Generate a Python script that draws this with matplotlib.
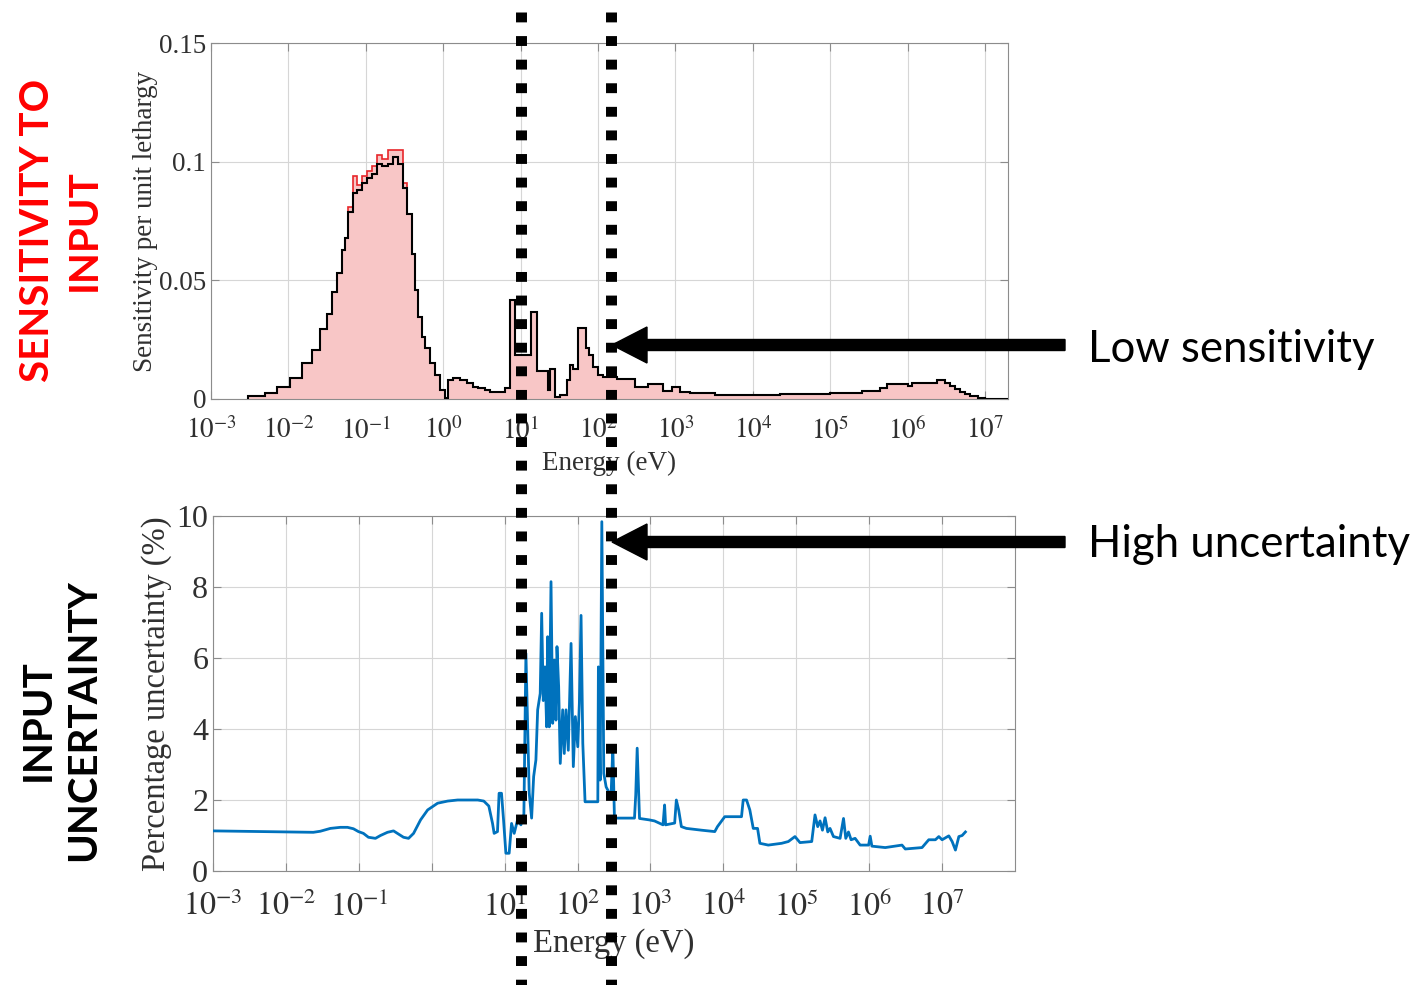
import matplotlib
matplotlib.use("Agg")
import matplotlib.pyplot as plt
import numpy as np
from matplotlib.patches import FancyArrow
from matplotlib.lines import Line2D

plt.rcParams['font.family'] = 'Liberation Serif'
plt.rcParams['mathtext.fontset'] = 'stix'

# sensitivity per unit lethargy, group edges given as log10(E / eV)
sens_edges_exp = [-2.52, -2.30, -2.15, -1.98, -1.83, -1.70, -1.59, -1.505, -1.44, -1.376,
                  -1.31, -1.27, -1.226, -1.16, -1.118, -1.053, -0.988, -0.924, -0.859, -0.795,
                  -0.709, -0.645, -0.58, -0.515, -0.472, -0.407, -0.364, -0.322, -0.278, -0.235,
                  -0.171, -0.106, -0.041, 0.023, 0.066, 0.13, 0.217, 0.307, 0.385, 0.45,
                  0.54, 0.605, 0.80, 0.863, 0.928, 1.134, 1.212, 1.354, 1.38, 1.444,
                  1.509, 1.60, 1.638, 1.677, 1.742, 1.845, 1.884, 1.935, 2.0, 2.065,
                  2.245, 2.478, 2.646, 2.84, 2.956, 3.059, 3.189, 3.512, 4.351, 4.997,
                  5.411, 5.643, 5.734, 6.005, 6.057, 6.38, 6.483, 6.548, 6.612, 6.677,
                  6.742, 6.806, 6.91, 7.0, 7.297]
sens_black = [0.0013, 0.0025, 0.005, 0.009, 0.015, 0.0206, 0.0295, 0.036, 0.045, 0.053,
              0.0627, 0.068, 0.079, 0.087, 0.088, 0.091, 0.093, 0.095, 0.099, 0.098,
              0.099, 0.102, 0.099, 0.089, 0.078, 0.061, 0.046, 0.0345, 0.026, 0.0215,
              0.015, 0.010, 0.004, 0.0004, 0.008, 0.009, 0.008, 0.0067, 0.005, 0.0046,
              0.0038, 0.003, 0.0046, 0.0417, 0.0185, 0.0366, 0.012, 0.004, 0.0125, 0.0008,
              0.0017, 0.008, 0.0143, 0.0125, 0.030, 0.0215, 0.0185, 0.0135, 0.010, 0.0093,
              0.0084, 0.005, 0.0063, 0.0034, 0.005, 0.003, 0.0025, 0.0017, 0.002, 0.0025,
              0.0034, 0.0046, 0.0063, 0.0055, 0.0067, 0.008, 0.0067, 0.0055, 0.0042, 0.003,
              0.0021, 0.0013, 0.0006, 0.0002]
# second library only differs visibly around the thermal peak
sens_red = list(sens_black)
sens_red[12:24] = [0.081, 0.094, 0.090, 0.094, 0.096, 0.098, 0.103, 0.101, 0.105, 0.105, 0.105, 0.091]

# percentage uncertainty curve
unc_exp = [-3.0, -1.624, -1.528, -1.390, -1.253, -1.156, -1.074, -1.005, -0.937, -0.868,
           -0.772, -0.703, -0.607, -0.524, -0.455, -0.387, -0.318, -0.249, -0.153, -0.056,
           0.081, 0.219, 0.356, 0.631, 0.714, 0.783, 0.834, 0.856, 0.902, 0.924,
           0.957, 0.985, 1.017, 1.062, 1.095, 1.131, 1.177, 1.223, 1.264, 1.292,
           1.315, 1.337, 1.370, 1.398, 1.429, 1.453, 1.488, 1.508, 1.530, 1.553,
           1.576, 1.590, 1.612, 1.636, 1.659, 1.681, 1.704, 1.718, 1.741, 1.763,
           1.796, 1.818, 1.842, 1.873, 1.911, 1.942, 1.970, 2.003, 2.025, 2.048,
           2.072, 2.103, 2.278, 2.286, 2.310, 2.333, 2.360, 2.392, 2.437, 2.461,
           2.484, 2.506, 2.781, 2.798, 2.818, 2.850, 2.983, 3.056, 3.172, 3.194,
           3.208, 3.332, 3.355, 3.387, 3.424, 3.493, 3.699, 3.882, 3.919, 4.019,
           4.249, 4.272, 4.318, 4.363, 4.410, 4.469, 4.501, 4.616, 4.799, 4.891,
           4.982, 5.051, 5.212, 5.257, 5.294, 5.326, 5.359, 5.395, 5.432, 5.463,
           5.510, 5.601, 5.648, 5.679, 5.716, 5.752, 5.807, 5.876, 5.992, 6.014,
           6.037, 6.220, 6.450, 6.495, 6.725, 6.817, 6.908, 6.955, 7.000, 7.092,
           7.138, 7.183, 7.230, 7.275, 7.320]
unc_pct = [1.13, 1.09, 1.12, 1.20, 1.23, 1.23, 1.19, 1.11, 1.06, 0.95,
           0.92, 1.00, 1.09, 1.13, 1.04, 0.95, 0.92, 1.06, 1.44, 1.72,
           1.91, 1.97, 2.00, 2.00, 1.97, 1.83, 1.34, 1.06, 1.11, 2.19,
           2.19, 1.44, 0.50, 0.50, 1.34, 1.06, 1.44, 1.30, 1.60, 6.13,
           4.06, 2.20, 1.49, 2.66, 3.13, 4.54, 5.00, 7.26, 4.80, 5.75,
           4.06, 6.60, 4.06, 8.15, 4.16, 5.94, 4.25, 6.32, 5.19, 3.03,
           4.54, 3.31, 4.54, 3.40, 6.41, 2.94, 4.35, 3.50, 4.72, 7.20,
           3.60, 1.95, 1.95, 5.75, 2.56, 9.84, 2.75, 2.37, 2.19, 2.20,
           3.50, 1.49, 1.49, 2.14, 3.46, 1.48, 1.44, 1.41, 1.30, 1.86,
           1.30, 1.35, 2.00, 1.72, 1.25, 1.20, 1.15, 1.11, 1.25, 1.53,
           1.53, 2.00, 2.00, 1.72, 1.20, 1.20, 0.78, 0.73, 0.78, 0.83,
           0.97, 0.80, 0.83, 1.58, 1.25, 1.41, 1.15, 1.50, 1.10, 1.20,
           0.97, 0.92, 1.48, 0.92, 1.10, 0.88, 0.92, 0.73, 0.73, 0.98,
           0.70, 0.66, 0.73, 0.62, 0.66, 0.88, 0.88, 0.97, 0.88, 0.99,
           0.83, 0.59, 0.97, 1.00, 1.10]

decades = list(range(-3, 8))
top_yticks = [0, 0.05, 0.1, 0.15]
top_ylabels = ['0', '0.05', '0.1', '0.15']
bot_yticks = [0, 2, 4, 6, 8, 10]


def matlab_style(ax, fs, xpad):
    ax.set_xscale('log')
    ax.grid(True, which='major', color='#d6d6d6', lw=0.8)
    ax.grid(True, which='minor', axis='x', color='#bdbdbd', lw=0.7, ls=':')
    ax.tick_params(which='both', direction='in', top=True, right=True,
                   colors='#8c8c8c', labelcolor='#303030', labelsize=fs)
    ax.tick_params(axis='x', which='major', pad=xpad)
    ax.tick_params(which='major', length=6)
    ax.tick_params(which='minor', length=3)
    for s in ax.spines.values():
        s.set_color('#8c8c8c')
    ax.set_axisbelow(True)


fig = plt.figure(figsize=(14.25, 9.85), dpi=100)

# top: sensitivity profile
ax1 = fig.add_axes([211/1425, 1-399/985, 797/1425, 356/985])
edges = 10.0 ** np.array(sens_edges_exp)
ax1.stairs(sens_red, edges, fill=True, color='#f8c6c6', zorder=2)
ax1.stairs(sens_red, edges, color='#e8262a', lw=1.2, zorder=3)
ax1.stairs(sens_black, edges, color='black', lw=1.5, zorder=4)
matlab_style(ax1, 19.5, 13)
ax1.set_xlim(1e-3, 10 ** 7.297)
ax1.set_ylim(0, 0.15)
ax1.set_xticks([10.0 ** d for d in decades])
ax1.set_xticklabels(['$10^{%d}$' % d for d in decades])
ax1.set_yticks(top_yticks)
ax1.set_yticklabels(top_ylabels)
ax1.set_xlabel('Energy (eV)', fontsize=19.5, color='#303030')
ax1.xaxis.set_label_coords(0.5, -0.145)
ax1.set_ylabel('Sensitivity per unit lethargy', fontsize=19.5, color='#303030')
ax1.yaxis.set_label_coords(-0.066, 0.5)

# bottom: percentage uncertainty
ax2 = fig.add_axes([213/1425, 1-871/985, 802/1425, 355/985])
ax2.plot(10.0 ** np.array(unc_exp), unc_pct, color='#0072bd', lw=2, zorder=3)
matlab_style(ax2, 23, 15)
ax2.set_xlim(1e-3, 1e8)
ax2.set_ylim(0, 10)
ax2.set_xticks([10.0 ** d for d in decades])
ax2.set_xticklabels(['' if d == 0 else '$10^{%d}$' % d for d in decades])
ax2.set_yticks(bot_yticks)
ax2.set_xlabel('Energy (eV)', fontsize=23.5, color='#303030')
ax2.xaxis.set_label_coords(0.5, -0.16)
ax2.set_ylabel('Percentage uncertainty (%)', fontsize=23.5, color='#303030')
ax2.yaxis.set_label_coords(-0.051, 0.5)

# slide annotations
fig.text(61/1425, 1-230/985, 'SENSITIVITY TO\nINPUT', rotation=90, ha='center', va='center',
         multialignment='center', color='#ff0000', fontsize=29, fontweight='bold',
         family='Lato', linespacing=1.3)
fig.text(61/1425, 1-720/985, 'INPUT\nUNCERTAINTY', rotation=90, ha='center', va='center',
         multialignment='center', color='black', fontsize=29, fontweight='bold',
         family='Lato', linespacing=1.3)
fig.text(1088/1425, 1-362/985, 'Low sensitivity', ha='left', va='baseline',
         fontsize=31.5, family='Lato', color='black')
fig.text(1088/1425, 1-557/985, 'High uncertainty', ha='left', va='baseline',
         fontsize=31.5, family='Lato', color='black')

for y_px in [345, 542]:
    fig.add_artist(FancyArrow(10.65, (985 - y_px) / 100, -(1065 - 612) / 100, 0,
                              width=0.11, head_width=0.36, head_length=0.35,
                              length_includes_head=True, color='black',
                              transform=fig.dpi_scale_trans))

for x_px in [520.5, 611]:
    fig.add_artist(Line2D([x_px / 100, x_px / 100], [9.73, 0.0], transform=fig.dpi_scale_trans,
                          color='black', lw=7.9, linestyle=(0, (0.9, 1.25)),
                          dash_capstyle='butt'))

fig.savefig('out.png', dpi=100)
